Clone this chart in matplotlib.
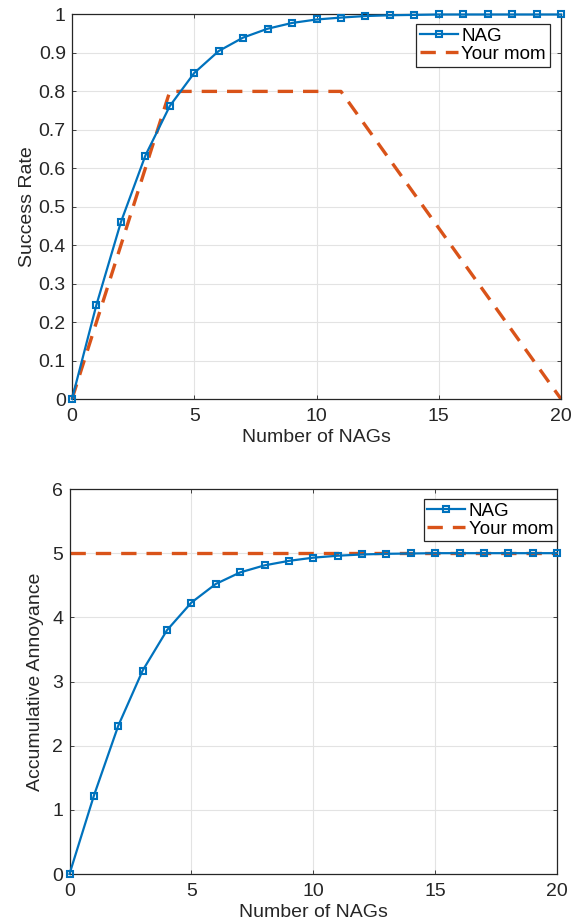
import matplotlib
matplotlib.use("Agg")
import matplotlib.pyplot as plt

plt.rcParams['font.family'] = ['Liberation Sans', 'DejaVu Sans']

x_nag = list(range(21))
success_nag = [0, 0.245, 0.46, 0.633, 0.762, 0.848, 0.905, 0.940, 0.963, 0.978,
               0.987, 0.992, 0.996, 0.998, 0.999, 1.0, 1.0, 1.0, 1.0, 1.0, 1.0]
x_mom = [0, 4, 11, 20]
success_mom = [0, 0.8, 0.8, 0]

annoy_nag = [0, 1.22, 2.31, 3.17, 3.80, 4.23, 4.52, 4.70, 4.81, 4.88,
             4.93, 4.96, 4.98, 4.99, 4.995, 5.0, 5.0, 5.0, 5.0, 5.0, 5.0]
x_mom2 = [0, 20]
annoy_mom = [5, 5]

blue = '#0072BD'
orange = '#D95319'
spine = '#262626'

W, H = 576, 922
fig = plt.figure(figsize=(W / 100, H / 100), dpi=100)

def ax_rect(l, t, r, b):
    return [l / W, 1 - b / H, (r - l) / W, (b - t) / H]

ax1 = fig.add_axes(ax_rect(72, 14.5, 561, 399))
ax2 = fig.add_axes(ax_rect(69.5, 489, 557, 874))

FS = 14

def style(ax):
    ax.grid(True, color='#e3e3e3', linewidth=0.8)
    ax.set_axisbelow(True)
    for s in ax.spines.values():
        s.set_color(spine)
        s.set_linewidth(0.9)
    ax.tick_params(direction='in', length=3, width=0.6, colors=spine,
                   labelsize=FS, top=True, right=True)
    ax.tick_params(axis='x', pad=6.5)
    ax.tick_params(axis='y', pad=4.5)
    ax.set_xlim(0, 20)
    ax.set_xticks([0, 5, 10, 15, 20])
    ax.set_xlabel('Number of NAGs', fontsize=FS, color=spine, labelpad=3)

def legend(ax, anchor):
    leg = ax.legend(loc='upper right', bbox_to_anchor=anchor, fontsize=13.5,
                    frameon=True, fancybox=False, edgecolor=spine, framealpha=1,
                    handlelength=2.0, handletextpad=0.2, borderpad=0.2,
                    labelspacing=0.05, borderaxespad=0)
    leg.get_frame().set_linewidth(0.9)

# top
ax1.plot(x_nag, success_nag, '-s', color=blue, lw=1.6, ms=5, mfc='none',
         mew=1.5, label='NAG', clip_on=False, zorder=3)
ax1.plot(x_mom, success_mom, '--', color=orange, lw=2.4, dashes=(4.6, 3.0),
         label='Your mom', clip_on=False, zorder=2)
style(ax1)
ax1.set_ylim(0, 1)
ax1.set_yticks([i / 10 for i in range(11)])
ax1.set_yticklabels(['0', '0.1', '0.2', '0.3', '0.4', '0.5', '0.6', '0.7', '0.8', '0.9', '1'])
ax1.set_ylabel('Success Rate', fontsize=FS, color=spine, labelpad=2)
legend(ax1, (0.977, 0.975))

# bottom
ax2.plot(x_nag, annoy_nag, '-s', color=blue, lw=1.6, ms=5, mfc='none',
         mew=1.5, label='NAG', clip_on=False, zorder=3)
ax2.plot(x_mom2, annoy_mom, '--', color=orange, lw=2.4, dashes=(4.6, 3.0),
         label='Your mom', clip_on=False, zorder=2)
style(ax2)
ax2.set_ylim(0, 6)
ax2.set_yticks(range(7))
ax2.set_ylabel('Accumulative Annoyance', fontsize=FS, color=spine, labelpad=6)
legend(ax2, (1.0, 0.975))

fig.savefig('out.png', dpi=100)
